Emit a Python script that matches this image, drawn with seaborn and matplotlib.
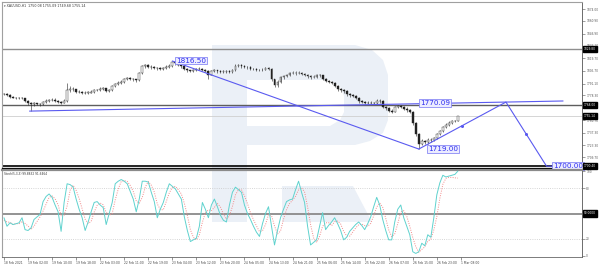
import numpy as np
import pandas as pd
import matplotlib
matplotlib.use("Agg")
import matplotlib.pyplot as plt
import seaborn as sns
from matplotlib.patches import Polygon

sns.set_style("white")
plt.rcParams["font.family"] = ["DejaVu Sans"]

# ---------------- data ----------------
first_open = 1780.0
closes = [1779.5,1779,1777,1776,1775.5,1775.5,1775,1772.5,1770,1768.5,
          1769.5,1769,1768.5,1771,1772.5,1773,1773.5,1772.5,1771.5,1770.5,
          1772,1784,1786,1785,1782.5,1782,1781,1781.5,1781.5,1782.5,
          1784,1784.5,1786,1786.5,1783.5,1784,1789,1791,1792.5,1793.5,
          1796.5,1797.5,1796.5,1796,1795.5,1803,1810.5,1812,1810,1809.5,
          1809,1808.5,1808,1808.5,1810,1811,1815,1814,1812,1810.5,
          1808,1806,1805.5,1806,1807.5,1808,1807,1805.5,1801.5,1805,
          1806,1805,1804.5,1804.5,1805,1804.5,1806,1811,1812,1810.5,
          1810,1809.5,1808,1807.5,1807,1806.5,1807,1808.5,1808,1796,
          1789.5,1793,1798.5,1800,1801,1803,1803.5,1803,1803.5,1802.5,
          1801,1799.5,1798.5,1799,1801,1800.5,1797,1794.5,1793.5,1792.5,
          1789,1785,1784.5,1783,1779.5,1778.5,1778,1776,1772,1771,
          1770.5,1770,1770.5,1770,1772.5,1772,1766,1764,1761.5,1760.5,
          1765,1766.5,1765.5,1763.5,1762,1760.5,1748,1736,1725,1728,
          1726.5,1729,1728.5,1731,1735.5,1739,1743.5,1746,1748,1749.5,
          1750,1755.1]
highs = [1781,1780.5,1780,1778,1777,1776.5,1777,1776,1773.5,1771,
         1771,1770.5,1770,1772.5,1774,1774.5,1775,1775,1773.5,1772.5,
         1774,1792,1789,1788,1786,1784,1783,1783,1783,1784,
         1785.5,1786,1787.5,1788,1787,1785.5,1790,1792.5,1794,1795,
         1798,1799,1798.5,1798,1797,1804.5,1812,1813.5,1813,1811.5,
         1810.5,1810,1810,1810,1811.5,1813,1816.5,1816,1815,1813,
         1811.5,1809,1807,1807.5,1809,1809.5,1809,1808,1806.5,1806,
         1807.5,1807,1806,1806,1806.5,1806,1807.5,1813,1813.5,1813,
         1812,1811,1810.5,1809,1809,1808,1808.5,1810,1810,1809,
         1797,1795,1800,1801.5,1802.5,1804.5,1805,1805,1805,1804.5,
         1803.5,1802,1801,1800.5,1802.5,1802,1801.5,1798,1795.5,1794.5,
         1793.5,1790,1786.5,1785.5,1784,1781,1780,1779,1777,1773.5,
         1772.5,1772,1772,1771.5,1774,1774,1773,1767,1765,1763,
         1766.5,1768,1768,1766.5,1765,1763.5,1761.5,1749,1737,1730,
         1729.5,1731,1731,1732.5,1737,1740.5,1745,1747.5,1749.5,1751,
         1751.5,1755.1]
lows = [1778.5,1777.5,1776,1775,1774.5,1774,1774,1771,1768,1761,
        1767,1767.5,1766.5,1767.5,1770,1771.5,1772,1771,1770,1768.5,
        1769.5,1771,1782,1783.5,1781,1780.5,1779.5,1780,1780,1780.5,
        1781.5,1783,1783.5,1784.5,1782,1782.5,1783,1788,1790,1791.5,
        1792.5,1795.5,1795,1794.5,1793.5,1794.5,1802,1809,1808.5,1808,
        1807.5,1807,1806.5,1807,1807.5,1809,1810,1812.5,1810.5,1809,
        1806.5,1804.5,1804,1804,1805,1806.5,1805.5,1804,1796,1800.5,
        1804,1803.5,1803,1803,1803.5,1803,1803.5,1805,1810,1809,
        1808.5,1808,1806.5,1806,1805.5,1805,1805,1806,1806.5,1794,
        1787.5,1788,1792,1797,1799,1800,1802,1801.5,1802,1801,
        1799.5,1798,1797,1797.5,1798,1799,1795.5,1793,1792,1791,
        1787.5,1783,1782.5,1781.5,1778,1777,1776.5,1774.5,1770.5,1769.5,
        1769,1768.5,1768.5,1768.5,1769,1770.5,1764.5,1762.5,1760,1758.5,
        1759.5,1764,1764,1762,1760.5,1759,1746,1733,1719,1723,
        1724.5,1725,1727,1727.5,1730,1734.5,1738,1742.5,1745,1747,
        1748.5,1749.7]
stoch_main = [45,35,39,37,38,39,45,31,30,33,
              43,46,49,64,70,73,69,60,52,29,
              63,85,84,81,67,55,45,30,40,52,
              63,64,60,57,37,50,63,85,88,90,
              88,85,76,67,52,67,88,88,87,75,
              64,45,55,63,75,85,82,79,73,67,
              46,30,17,19,21,35,63,55,45,60,
              67,58,48,42,40,60,75,81,78,75,
              60,50,43,35,28,23,38,50,58,35,
              13,30,45,55,64,66,67,78,88,75,
              63,35,13,16,19,35,51,31,36,40,
              45,38,30,19,22,29,33,37,40,36,
              31,38,46,58,69,60,43,30,19,19,
              40,55,60,45,35,25,5,3,5,15,
              12,25,22,45,72,86,95,93,94,95,
              96,99.88]
stoch_signal = [42,40,39.7,37,38,38,40.7,38.3,35.3,31.3,
                35.3,40.7,46,53,61,69,70.7,67.3,60.3,47,
                48,59,77.3,83.3,77.3,67.7,55.7,43.3,38.3,40.7,
                51.7,59.7,62.3,60.3,51.3,48,50,66,78.7,87.7,
                88.7,87.7,83,76,65,62,69,81,87.7,83.3,
                75.3,61.3,54.7,54.3,64.3,74.3,80.7,82,78,73,
                62,47.7,31,22,19,25,39.7,51,54.3,53.3,
                57.3,61.7,57.7,49.3,43.3,47.3,58.3,72,78,78,
                71,61.7,51,42.7,35.3,28.7,29.7,37,48.7,47.7,
                35.3,26,29.3,43.3,54.7,61.7,65.7,70.3,77.7,80.3,
                75.3,57.7,37,21.3,16,23.3,35,39,39.3,35.7,
                40.3,41,37.7,29,23.7,23.3,28,33,36.7,37.7,
                35.7,35,38.3,47.3,57.7,62.3,57.3,44.3,30.7,22.7,
                26,38,51.7,53.3,46.7,35,21.7,11,4.3,7.7,
                10.7,17.3,19.7,30.7,46.3,67.7,84.3,91.3,92.5,92.5,
                92,91.65]
time_labels = ["18 Feb 2021", "19 Feb 02:00", "19 Feb 10:00", "19 Feb 18:00",
               "22 Feb 03:00", "22 Feb 11:00", "22 Feb 19:00", "23 Feb 04:00",
               "23 Feb 12:00", "23 Feb 20:00", "24 Feb 05:00", "24 Feb 13:00",
               "24 Feb 21:00", "25 Feb 06:00", "25 Feb 14:00", "25 Feb 22:00",
               "26 Feb 07:00", "26 Feb 15:00", "26 Feb 23:00", "1 Mar 08:00"]
price_tick_labels = ["1874.00", "1860.90", "1846.90", "1833.10", "1819.70", "1805.70",
                     "1791.10", "1778.30", "1764.50", "1750.70", "1737.30", "1723.30",
                     "1709.70"]
price_marks = [1829.80, 1768.00, 1755.14, 1700.40]
hline_levels = [1829.80, 1768.00, 1755.14, 1700.00]
trend_support = ([8.5, 186.0], [1761.0, 1772.2])
trend_down = ([56.0, 138.0], [1816.5, 1719.0])
forecast = ([138.0, 167.0, 180.5, 182.6], [1719.0, 1771.0, 1700.0, 1700.0])
forecast_mid = ([152.5, 173.75], [1745.0, 1735.5])
level_labels = [("1816.50", 57.2, 1817.0), ("1770.09", 138.4, 1770.0),
                ("1719.00", 141.0, 1719.0), ("1700.00", 182.6, 1700.4)]
stoch_ticks = [100, 80, 20, 0]

# ---------------- figure ----------------
W, H = 600, 267
fig = plt.figure(figsize=(6, 2.67), dpi=100)
fig.patch.set_facecolor("white")

def fx(x, y):
    return (x / W, 1 - y / H)

# watermark (figure level, behind transparent axes)
wm = "#ebf0f7"
shapes = [
    ([(212, 45), (247, 45), (247, 222), (212, 222)], wm, -3),
    ([(247, 45), (355, 45), (372, 50), (383, 60), (388, 75), (388, 120), (383, 133),
      (370, 141), (355, 145), (247, 145)], wm, -3),
    ([(247, 80), (330, 80), (340, 86), (344, 96), (344, 112), (340, 120), (330, 126),
      (247, 126)], "white", -2),
    ([(282, 186), (353, 186), (372, 222), (282, 222)], wm, -3),
]
for pts, col, z in shapes:
    fig.patches.append(Polygon([fx(*p) for p in pts], closed=True, fc=col, ec="none",
                               transform=fig.transFigure, zorder=z))

L = 2 / W
AW = 580 / W
ax1 = fig.add_axes([L, 1 - 168 / H, AW, 166 / H])
ax2 = fig.add_axes([L, 1 - 257 / H, AW, 87 / H])
for a in (ax1, ax2):
    a.set_facecolor("none")

n = len(closes)
idx = np.arange(n)
opens = [first_open] + closes[:-1]
df = pd.DataFrame({"i": idx, "open": opens, "close": closes, "high": highs, "low": lows,
                   "k": stoch_main, "d": stoch_signal})

xlim = (-0.665, 192.3)

# ---- price panel ----
ax1.vlines(df["i"], df["low"], df["high"], color="#222222", lw=0.4, zorder=3)
up = df["close"] >= df["open"]
body_h = (df["close"] - df["open"]).abs().clip(lower=0.35)
body_b = df[["open", "close"]].min(axis=1)
ax1.bar(df["i"][up], body_h[up], bottom=body_b[up], width=0.6, color="white",
        edgecolor="#222222", lw=0.3, zorder=4)
ax1.bar(df["i"][~up], body_h[~up], bottom=body_b[~up], width=0.6, color="#222222",
        edgecolor="#222222", lw=0.3, zorder=4)

hl_styles = [("#8f8f8f", 1.0), ("#5e5e5e", 1.0), ("#cfcfcf", 0.6), ("black", 1.2)]
for lv, (c, lw) in zip(hline_levels, hl_styles):
    ax1.axhline(lv, color=c, lw=lw, zorder=2)

blue = "#5a5af0"
ax1.plot(*trend_support, color=blue, lw=0.8, zorder=5)
ax1.plot(*trend_down, color=blue, lw=0.8, zorder=5)
ax1.plot(*forecast, color=blue, lw=0.8, zorder=5)
ax1.plot(*forecast_mid, ls="none", marker="o", ms=1.2, color=blue, zorder=5)
for txt, xv, yv in level_labels:
    ax1.text(xv, yv, txt, color="#2f2ff0", fontsize=5.2, va="center", ha="left", zorder=6,
             bbox=dict(boxstyle="square,pad=0.12", fc="#ececff", ec="#8a8af5", lw=0.6))

ax1.set_xlim(*xlim)
ax1.set_ylim(1698.0, 1881.8)
ax1.set_xticks([])
tick_vals = [float(t) for t in price_tick_labels]
ax1.yaxis.tick_right()
ax1.set_yticks(tick_vals)
ax1.set_yticklabels(price_tick_labels)
ax1.tick_params(axis="y", right=True, left=False, length=2, width=0.4, pad=1,
                labelsize=2.1, colors="#555555", direction="out")
for lv in price_marks:
    ax1.text(1.003, lv, f"{lv:.2f}", transform=ax1.get_yaxis_transform(), fontsize=2.1,
             color="white", va="center", ha="left", clip_on=False, zorder=10,
             bbox=dict(boxstyle="square,pad=0.35", fc="black", ec="black"))
ax1.text(0.004, 0.985, "\u25be XAUUSD,H1  1750.08 1755.09 1749.68 1755.14",
         transform=ax1.transAxes, fontsize=2.3, color="#333333", va="top", ha="left")
for s, (c, w) in {"left": ("#a0a0a0", 0.8), "top": ("#a0a0a0", 0.8),
                  "right": ("#555555", 0.6), "bottom": ("black", 0.9)}.items():
    ax1.spines[s].set_color(c)
    ax1.spines[s].set_linewidth(w)

# ---- stochastic panel ----
ax2.axhline(80, color="#c8c8c8", ls=":", lw=0.6, zorder=1)
ax2.axhline(20, color="#c8c8c8", ls=":", lw=0.6, zorder=1)
ax2.axhline(50, color="#8a8a8a", lw=1.3, zorder=1)
sns.lineplot(data=df, x="i", y="k", ax=ax2, color="#5fd2ce", lw=0.7, zorder=3)
sns.lineplot(data=df, x="i", y="d", ax=ax2, color="#f28b8b", lw=0.7, ls=(0, (1, 1.4)), zorder=2)
ax2.set_xlim(*xlim)
ax2.set_ylim(-1.2, 101.2)
ax2.set_xlabel("")
ax2.set_ylabel("")
ax2.yaxis.tick_right()
ax2.set_yticks(stoch_ticks)
ax2.set_yticklabels([str(t) for t in stoch_ticks])
ax2.tick_params(axis="y", right=True, left=False, length=2, width=0.4, pad=1,
                labelsize=2.1, colors="#555555", direction="out")
ax2.text(1.003, 50, "50.0000", transform=ax2.get_yaxis_transform(), fontsize=2.1,
         color="white", va="center", ha="left", clip_on=False, zorder=10,
         bbox=dict(boxstyle="square,pad=0.35", fc="black", ec="black"))
ax2.set_xticks(np.arange(len(time_labels)) * 8)
ax2.set_xticklabels(time_labels, ha="left")
ax2.tick_params(axis="x", bottom=True, length=2, width=0.4, pad=1, labelsize=2.2,
                colors="#444444", direction="out")
ax2.text(0.004, 0.975, "Stoch(5,3,3) 99.8832 91.6464", transform=ax2.transAxes,
         fontsize=2.1, color="#333333", va="top", ha="left")
for s, (c, w) in {"left": ("#a0a0a0", 0.8), "top": ("#8a8a8a", 1.6),
                  "right": ("#555555", 0.6), "bottom": ("#666666", 0.6)}.items():
    ax2.spines[s].set_color(c)
    ax2.spines[s].set_linewidth(w)

fig.savefig("out.png", dpi=100, facecolor="white")
